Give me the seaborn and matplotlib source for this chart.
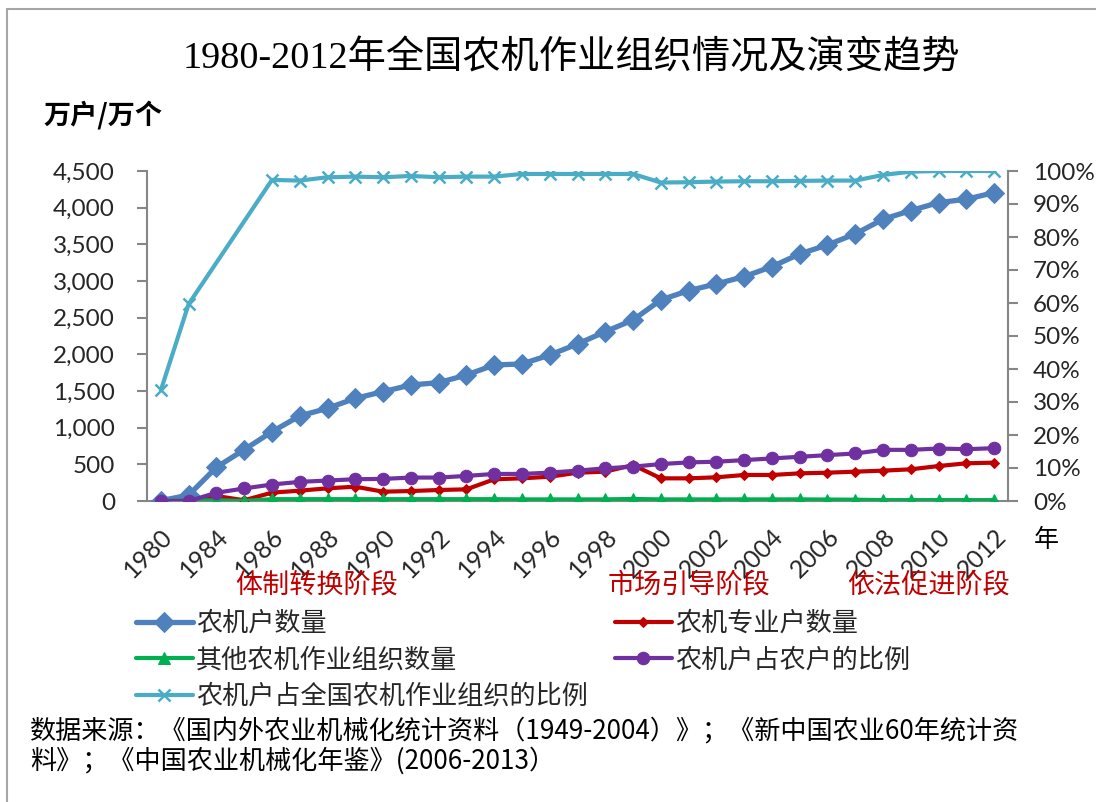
import numpy as np
import pandas as pd
import matplotlib
matplotlib.use("Agg")
import matplotlib.pyplot as plt
import matplotlib.ticker as mticker
from matplotlib.patches import Rectangle
import seaborn as sns

# ---------------- data ----------------
years = [1980, 1983, 1984, 1985, 1986, 1987, 1988, 1989, 1990, 1991, 1992,
         1993, 1994, 1995, 1996, 1997, 1998, 1999, 2000, 2001, 2002, 2003,
         2004, 2005, 2006, 2007, 2008, 2009, 2010, 2011, 2012]

households = [5, 80, 460, 700, 945, 1160, 1264, 1400, 1491, 1582, 1614,
              1718, 1855, 1869, 1991, 2141, 2309, 2469, 2742, 2869, 2960, 3060,
              3196, 3369, 3492, 3642, 3842, 3960, 4069, 4115, 4205]

specialized = [0, 0, 68, 10, 114, 141, 173, 195, 127, 136, 150,
               159, 296, 309, 331, 386, 400, 491, 309, 309, 323, 355,
               355, 377, 386, 400, 414, 432, 477, 514, 523]

other_orgs = [0, 5, 10, 0, 25, 25, 25, 25, 25, 25, 25,
              25, 25, 22, 22, 22, 22, 28, 22, 22, 22, 22,
              22, 22, 20, 18, 12, 12, 12, 12, 12]

share_of_farmers = [0.0, 0.0, 0.025, 0.038, 0.050, 0.058, 0.062, 0.066, 0.067, 0.071, 0.071,
                    0.076, 0.082, 0.082, 0.086, 0.092, 0.099, 0.104, 0.112, 0.117, 0.119, 0.124,
                    0.129, 0.134, 0.139, 0.144, 0.155, 0.155, 0.159, 0.157, 0.160]

share_of_orgs = [0.336, 0.597, np.nan, np.nan, 0.973, 0.971, 0.981, 0.983, 0.981, 0.985, 0.981,
                 0.983, 0.983, 0.991, 0.991, 0.991, 0.991, 0.991, 0.965, 0.966, 0.968, 0.969,
                 0.969, 0.970, 0.971, 0.971, 0.988, 0.998, 1.0, 1.0, 1.0]

series_names = ["农机户数量", "农机专业户数量", "其他农机作业组织数量",
                "农机户占农户的比例", "农机户占全国农机作业组织的比例"]
phase_labels = ["体制转换阶段", "市场引导阶段", "依法促进阶段"]
title = "1980-2012年全国农机作业组织情况及演变趋势"
source_lines = ["数据来源：《国内外农业机械化统计资料（1949-2004）》；《新中国农业60年统计资",
                "料》；《中国农业机械化年鉴》(2006-2013）"]

# ---------------- style ----------------
sns.set_theme(style="white")
CJK = ["Noto Sans CJK SC", "DejaVu Sans"]
NUM = ["Lato", "Noto Sans CJK SC", "DejaVu Sans"]
plt.rcParams["font.family"] = CJK
plt.rcParams["axes.unicode_minus"] = False

W, H = 1096, 802
fig = plt.figure(figsize=(W / 100, H / 100), dpi=100)
fig.patch.set_facecolor("white")

def fx(px):
    return px / W

def fy(py):
    return 1 - py / H

ax = fig.add_axes([fx(147), fy(501), fx(1008) - fx(147), fy(171) - fy(501)])
ax2 = ax.twinx()

pos = np.arange(len(years))
df = pd.DataFrame({"pos": pos, "hh": households, "sp": specialized, "ot": other_orgs,
                   "sf": share_of_farmers, "so": share_of_orgs})

c_blue, c_red, c_green, c_purple, c_cyan = "#4F81BD", "#C00000", "#00B050", "#7030A0", "#4BACC6"

sns.lineplot(data=df, x="pos", y="hh", ax=ax, color=c_blue, lw=3.8, marker="D",
             markersize=10, markeredgecolor=c_blue, label=series_names[0], zorder=3)
sns.lineplot(data=df, x="pos", y="sp", ax=ax, color=c_red, lw=3.0, marker="D",
             markersize=5.5, markeredgecolor=c_red, label=series_names[1], zorder=3)
sns.lineplot(data=df, x="pos", y="ot", ax=ax, color=c_green, lw=3.0, marker="^",
             markersize=8.5, markeredgecolor=c_green, label=series_names[2], zorder=4)
sns.lineplot(data=df, x="pos", y="sf", ax=ax2, color=c_purple, lw=3.0, marker="o",
             markersize=9, markeredgecolor=c_purple, label=series_names[3], zorder=3)
sns.lineplot(data=df.dropna(subset=["so"]), x="pos", y="so", ax=ax2, color=c_cyan, lw=3.0,
             marker="x", markersize=8.5, markeredgewidth=1.8, markeredgecolor=c_cyan,
             label=series_names[4], zorder=3)

# axes limits / ticks
ax.set_xlim(-0.5, len(years) - 0.5)
ax.set_ylim(0, 4500)
ax2.set_ylim(0, 1.0)
ax.set_yticks(np.arange(0, 4501, 500))
ax2.set_yticks(np.arange(0, 1.001, 0.1))
ax.yaxis.set_major_formatter(mticker.FuncFormatter(lambda v, p: f"{int(v):,}"))
ax2.yaxis.set_major_formatter(mticker.FuncFormatter(lambda v, p: f"{int(round(v * 100))}%"))
ax.set_xticks(pos[::2])
ax.set_xticklabels([str(y) for y in years[::2]], rotation=45, ha="right",
                   rotation_mode="anchor", fontsize=18, family=NUM)
for lab in ax.get_yticklabels():
    lab.set_fontsize(17.5)
    lab.set_family(NUM)
for lab in ax2.get_yticklabels():
    lab.set_fontsize(17.5)
    lab.set_family(NUM)
ax.set_xlabel("")
ax.set_ylabel("")
ax2.set_ylabel("")

spine_c = "#868686"
for a in (ax, ax2):
    a.spines["top"].set_visible(False)
ax.spines["right"].set_visible(False)
ax2.spines["left"].set_visible(False)
ax2.spines["bottom"].set_visible(False)
ax.spines["left"].set_color(spine_c)
ax.spines["bottom"].set_color(spine_c)
ax2.spines["right"].set_color(spine_c)
for s in ("left", "bottom"):
    ax.spines[s].set_linewidth(1.5)
ax2.spines["right"].set_linewidth(1.5)
ax.tick_params(axis="y", which="major", direction="out", length=7, width=1.5,
               color=spine_c, pad=16, left=True)
ax.tick_params(axis="x", which="major", length=0, pad=17, bottom=True)
ax2.tick_params(axis="y", which="major", direction="out", length=7, width=1.5,
                color=spine_c, pad=11, right=True)
ax.grid(False)
ax2.grid(False)
ax.set_zorder(1)
ax2.set_zorder(2)
ax2.patch.set_visible(False)

# legend (combined)
h1, l1 = ax.get_legend_handles_labels()
h2, l2 = ax2.get_legend_handles_labels()
ax.get_legend().remove()
ax2.get_legend().remove()
hd = dict(zip(l1 + l2, h1 + h2))
order = [series_names[0], series_names[2], series_names[4], series_names[1], series_names[3]]
fig.legend([hd[k] for k in order], order, loc="upper left",
           bbox_to_anchor=(fx(136), fy(610)), ncol=2, frameon=False,
           prop={"family": CJK, "size": 18.8}, handlelength=2.17, handletextpad=0.12,
           labelspacing=0.36, columnspacing=1.05, borderaxespad=0, borderpad=0)

# texts
fig.text(fx(571), fy(58), title, ha="center", va="center", fontsize=27.5,
         family=["Liberation Serif", "Noto Sans CJK SC"], color="black")
fig.text(fx(43), fy(115), "万户/万个", ha="left", va="center", fontsize=19.5,
         fontweight="bold", family=CJK, color="black")
fig.text(fx(1034), fy(540), "年", ha="left", va="center", fontsize=18, family=CJK, color="black")
for lbl, cx in zip(phase_labels, [317, 689, 929]):
    fig.text(fx(cx), fy(585), lbl, ha="center", va="center", fontsize=19.5,
             family=CJK, color="#C00000")
fig.text(fx(30), fy(731), source_lines[0], ha="left", va="center", fontsize=18.8,
         family=CJK, color="black")
fig.text(fx(30), fy(761), source_lines[1], ha="left", va="center", fontsize=18.8,
         family=CJK, color="black")

# outer chart border
fig.patches.append(Rectangle((fx(7), -0.02), 1.2, fy(9) + 0.02, transform=fig.transFigure,
                             fill=False, edgecolor="#A6A6A6", lw=1.5))

fig.savefig("out.png", dpi=100, facecolor="white")
